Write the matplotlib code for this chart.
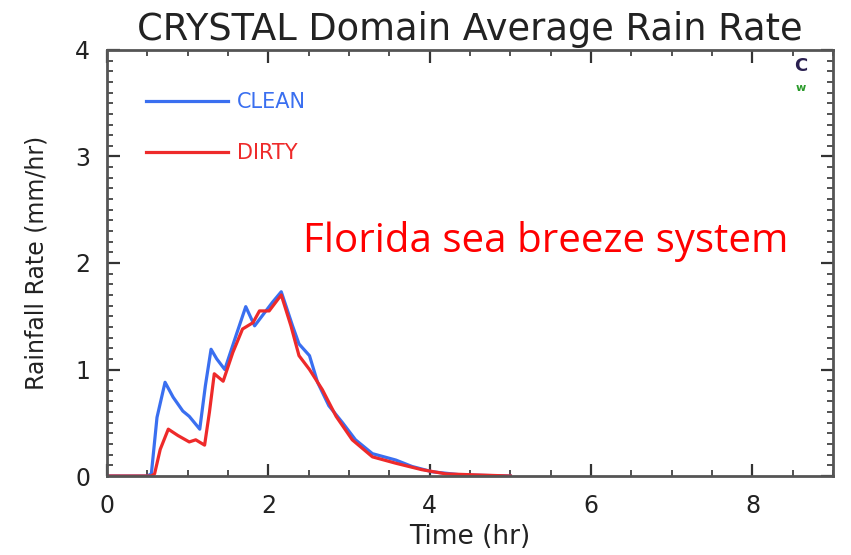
import matplotlib
matplotlib.use("Agg")
import matplotlib.pyplot as plt
from matplotlib.ticker import MultipleLocator

# domain-average rain rate, clean vs dirty aerosol runs
clean_t = [0.0, 0.5, 0.55, 0.62, 0.72, 0.82, 0.94, 1.02, 1.15, 1.22, 1.29, 1.36, 1.46,
           1.6, 1.72, 1.83, 1.93, 2.05, 2.16, 2.3, 2.38, 2.51, 2.61, 2.75, 2.92,
           3.08, 3.29, 3.58, 3.78, 4.03, 4.4, 5.0]
clean_r = [0.0, 0.0, 0.02, 0.55, 0.88, 0.74, 0.61, 0.56, 0.44, 0.85, 1.19, 1.1, 1.0,
           1.32, 1.59, 1.41, 1.51, 1.63, 1.73, 1.41, 1.24, 1.13, 0.88, 0.66, 0.50,
           0.34, 0.21, 0.15, 0.09, 0.04, 0.01, 0.0]

dirty_t = [0.0, 0.55, 0.59, 0.66, 0.76, 0.88, 1.02, 1.1, 1.21, 1.27, 1.33, 1.44,
           1.56, 1.68, 1.81, 1.89, 2.01, 2.16, 2.28, 2.38, 2.51, 2.67, 2.84,
           3.04, 3.29, 3.58, 3.9, 4.2, 5.0]
dirty_r = [0.0, 0.0, 0.02, 0.25, 0.44, 0.38, 0.32, 0.34, 0.29, 0.6, 0.96, 0.89,
           1.16, 1.38, 1.44, 1.55, 1.55, 1.70, 1.41, 1.13, 1.0, 0.81, 0.56,
           0.34, 0.18, 0.12, 0.06, 0.02, 0.0]

labels = ["CLEAN", "DIRTY"]
colors = ["#3a6ff0", "#ee2a2a"]
axis_grey = "#333333"
text_col = "#222222"

fig = plt.figure(figsize=(8.51, 5.55), dpi=100)
ax = fig.add_axes([0.1257, 0.1423, 0.979 - 0.1257, 0.91 - 0.1423])

l1, = ax.plot(clean_t, clean_r, color=colors[0], lw=2.3, label=labels[0])
l2, = ax.plot(dirty_t, dirty_r, color=colors[1], lw=2.3, label=labels[1])

ax.set_xlim(0, 9)
ax.set_ylim(0, 4)
ax.xaxis.set_major_locator(MultipleLocator(2))
ax.xaxis.set_minor_locator(MultipleLocator(0.5))
ax.yaxis.set_major_locator(MultipleLocator(1))
ax.yaxis.set_minor_locator(MultipleLocator(0.1))
ax.tick_params(which="both", direction="in", top=True, right=True, colors=axis_grey,
               labelsize=17, labelcolor=text_col)
ax.tick_params(which="major", length=9, width=1.6)
ax.tick_params(which="minor", length=4, width=1.2)
ax.tick_params(axis="x", pad=13)
ax.tick_params(axis="y", pad=12)
for s in ax.spines.values():
    s.set_color("#555555")
    s.set_linewidth(2)

ax.set_title("CRYSTAL Domain Average Rain Rate", fontsize=26.5, color=text_col, pad=7)
ax.set_xlabel("Time (hr)", fontsize=19, color=text_col, labelpad=4)
ax.set_ylabel("Rainfall Rate (mm/hr)", fontsize=17, color=text_col, labelpad=19)

leg = ax.legend(handles=[l1, l2], loc="upper left", bbox_to_anchor=(0.028, 0.945),
                frameon=False, handlelength=3.95, handletextpad=0.4, labelspacing=1.5,
                fontsize=15, labelcolor="linecolor")

ax.text(0.938, 0.55, "Florida sea breeze system", transform=ax.transAxes,
        ha="right", va="center", fontsize=29, color="#ff0000", family="Open Sans")

# run marker in the corner
ax.text(0.955, 0.962, "C", transform=ax.transAxes, ha="center", va="center",
        fontsize=13, color="#2a2050", fontweight="bold")
ax.text(0.955, 0.922, "w", transform=ax.transAxes, ha="center", va="top",
        fontsize=8, color="#2a9a2a", fontweight="bold")

fig.savefig("out.png", dpi=100)
